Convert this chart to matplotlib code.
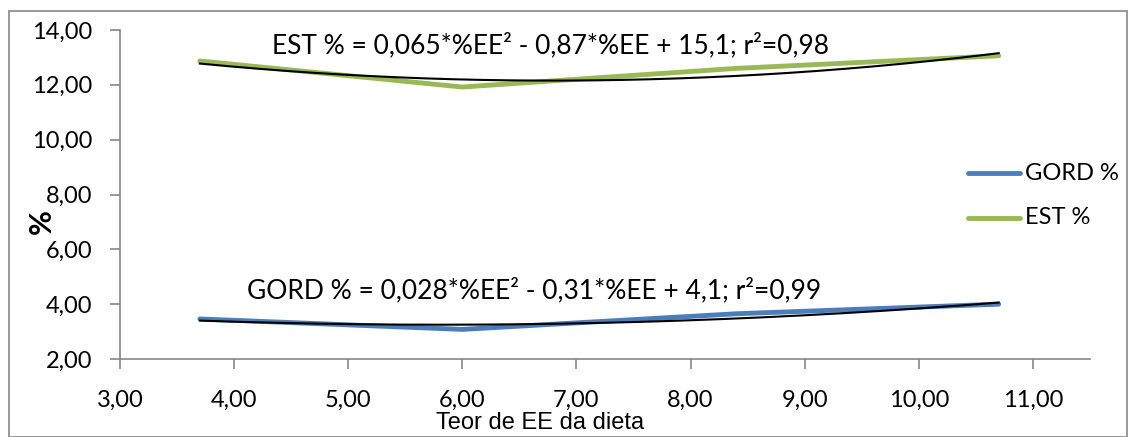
import numpy as np
import matplotlib
matplotlib.use("Agg")
import matplotlib.pyplot as plt
from matplotlib.patches import Rectangle
from matplotlib.lines import Line2D

x_ee = [3.7, 6.0, 8.4, 10.7]
gord = [3.46, 3.08, 3.65, 4.0]
est = [12.87, 11.92, 12.6, 13.06]
series_names = ["GORD %", "EST %"]
eq_est = "EST % = 0,065*%EE² - 0,87*%EE + 15,1; r²=0,98"
eq_gord = "GORD % = 0,028*%EE² - 0,31*%EE + 4,1; r²=0,99"
xticks = [3, 4, 5, 6, 7, 8, 9, 10, 11]
yticks = [2, 4, 6, 8, 10, 12, 14]

W, H = 1131, 437
fig = plt.figure(figsize=(W/100, H/100), dpi=100)
fig.patches.append(Rectangle((9/W, 0), (1127-9)/W, 1-11/H, transform=fig.transFigure,
                             fill=False, edgecolor='#868686', linewidth=1.2))
ax = fig.add_axes([120/W, 1-359/H, (1090-120)/W, (359-30)/H])

font = ['Lato', 'DejaVu Sans']
blue = '#4a7ebb'
green = '#98b954'
ax.plot(x_ee, gord, color=blue, lw=3.5, solid_capstyle='round')
ax.plot(x_ee, est, color=green, lw=3.5, solid_capstyle='round')
xs = np.linspace(min(x_ee), max(x_ee), 200)
for ys in (gord, est):
    c = np.polyfit(x_ee, ys, 2)
    ax.plot(xs, np.polyval(c, xs), color='black', lw=1.5)

ax.set_xlim(3, 11.5)
ax.set_ylim(2, 14)
ax.set_xticks(xticks)
ax.set_yticks(yticks)
ax.set_xticklabels([f"{v:.2f}".replace('.', ',') for v in xticks], fontsize=17, family=font)
ax.set_yticklabels([f"{v:.2f}".replace('.', ',') for v in yticks], fontsize=17, family=font)
for s in ('top', 'right'):
    ax.spines[s].set_visible(False)
for s in ('left', 'bottom'):
    ax.spines[s].set_color('#868686')
    ax.spines[s].set_linewidth(1.2)
ax.tick_params(axis='both', colors='#868686', labelcolor='black', length=7, width=1.2)
ax.tick_params(axis='x', pad=15)
ax.tick_params(axis='y', pad=13)

fig.text(550/W, 1-45/H, eq_est, fontsize=19, family=font, ha='center', va='center')
fig.text(534/W, 1-290/H, eq_gord, fontsize=19, family=font, ha='center', va='center')
fig.text(540/W, 1-423/H, "Teor de EE da dieta", fontsize=17,
         family=['Liberation Sans', 'DejaVu Sans'], ha='center', va='center')
fig.text(42/W, 1-222/H, "%", fontsize=22, fontweight='bold', rotation=90,
         family=font, ha='center', va='center')

# legend
for yy, col, name in ((173, blue, series_names[0]), (218, green, series_names[1])):
    fig.add_artist(Line2D([968/W, 1020/W], [1-yy/H, 1-yy/H], color=col, lw=3.5,
                          solid_capstyle='round', transform=fig.transFigure))
    fig.text(1025/W, 1-yy/H, name, fontsize=17, family=font, ha='left', va='center')

fig.savefig("out.png", dpi=100)
